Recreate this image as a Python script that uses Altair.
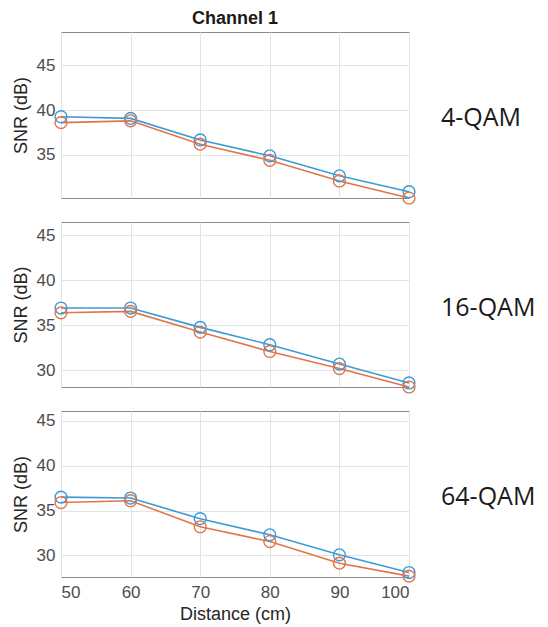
import altair as alt
import pandas as pd

distance = [50, 60, 70, 80, 90, 100]
series_names = ["Run A", "Run B"]
colors = ["#3c9ad9", "#e2744a"]

panel_labels = ["4-QAM", "16-QAM", "64-QAM"]
snr_a = [
    [39.26, 39.07, 36.67, 34.90, 32.67, 30.90],
    [36.93, 36.93, 34.78, 32.85, 30.70, 28.60],
    [36.50, 36.40, 34.10, 32.30, 30.07, 28.10],
]
snr_b = [
    [38.60, 38.80, 36.20, 34.40, 32.10, 30.20],
    [36.40, 36.56, 34.26, 32.10, 30.20, 28.15],
    [35.90, 36.10, 33.20, 31.55, 29.14, 27.70],
]
y_domains = [[30.2, 48.7], [28.15, 46.5], [27.6, 46.1]]
y_ticks = [[35, 40, 45], [30, 35, 40, 45], [30, 35, 40, 45]]
x_ticks = [50, 60, 70, 80, 90, 100]
heights = [166, 165, 166]

W = 348
FONT = "Liberation Sans"

panels = []
for i in range(3):
    rows = []
    for d, a, b in zip(distance, snr_a[i], snr_b[i]):
        rows.append({"Distance": d, "SNR": a, "Series": series_names[0]})
        rows.append({"Distance": d, "SNR": b, "Series": series_names[1]})
    df = pd.DataFrame(rows)
    last = i == 2
    if last:
        xaxis = alt.Axis(
            values=x_ticks,
            title="Distance (cm)",
            grid=True,
            ticks=False,
            domain=False,
            labelPadding=7,
            titlePadding=5,
        )
    else:
        xaxis = alt.Axis(
            values=x_ticks,
            labels=False,
            title=None,
            grid=True,
            ticks=False,
            domain=False,
            labelPadding=0,
            minExtent=0,
            maxExtent=0,
        )
    xenc = alt.X(
        "Distance:Q",
        scale=alt.Scale(domain=[50, 100], nice=False, zero=False),
        axis=xaxis,
    )
    yenc = alt.Y(
        "SNR:Q",
        scale=alt.Scale(domain=y_domains[i], nice=False, zero=False),
        axis=alt.Axis(
            values=y_ticks[i],
            title="SNR (dB)",
            grid=True,
            ticks=False,
            domain=False,
            labelPadding=6,
            titlePadding=6,
        ),
    )
    cenc = alt.Color(
        "Series:N",
        scale=alt.Scale(domain=series_names, range=colors),
        legend=None,
    )
    base = alt.Chart(df).encode(x=xenc, y=yenc, color=cenc)
    lines = base.mark_line(strokeWidth=1.6)
    pts = base.mark_point(shape="circle", filled=False, size=140, strokeWidth=1.4, opacity=1)
    lab_df = pd.DataFrame({"label": [panel_labels[i]]})
    label = alt.Chart(lab_df).mark_text(
        align="left", baseline="middle", font="Open Sans", fontSize=25, color="#1a1a1a"
    ).encode(
        text="label:N",
        x=alt.value(W + 32),
        y=alt.value(heights[i] / 2 + 3),
    )
    props = dict(width=W, height=heights[i])
    if i == 0:
        props["title"] = alt.TitleParams(
            "Channel 1",
            fontSize=18,
            fontWeight="bold",
            font=FONT,
            color="#1a1a1a",
            frame="group",
            anchor="middle",
            offset=4,
        )
    panels.append(alt.layer(lines, pts, label).properties(**props))

chart = (
    alt.vconcat(*panels, spacing=13)
    .properties(padding={"left": 11, "top": 9, "right": 5, "bottom": 4})
    .configure_view(stroke="#8a8a8a", strokeWidth=1)
    .configure_axis(
        labelFont=FONT,
        titleFont=FONT,
        labelFontSize=17,
        titleFontSize=18,
        labelColor="#4d4d4d",
        titleColor="#262626",
        titleFontWeight="normal",
        gridColor="#e3e3e3",
        gridWidth=1,
    )
)

chart.save("out.html", embed_options={"renderer": "svg", "actions": False})
